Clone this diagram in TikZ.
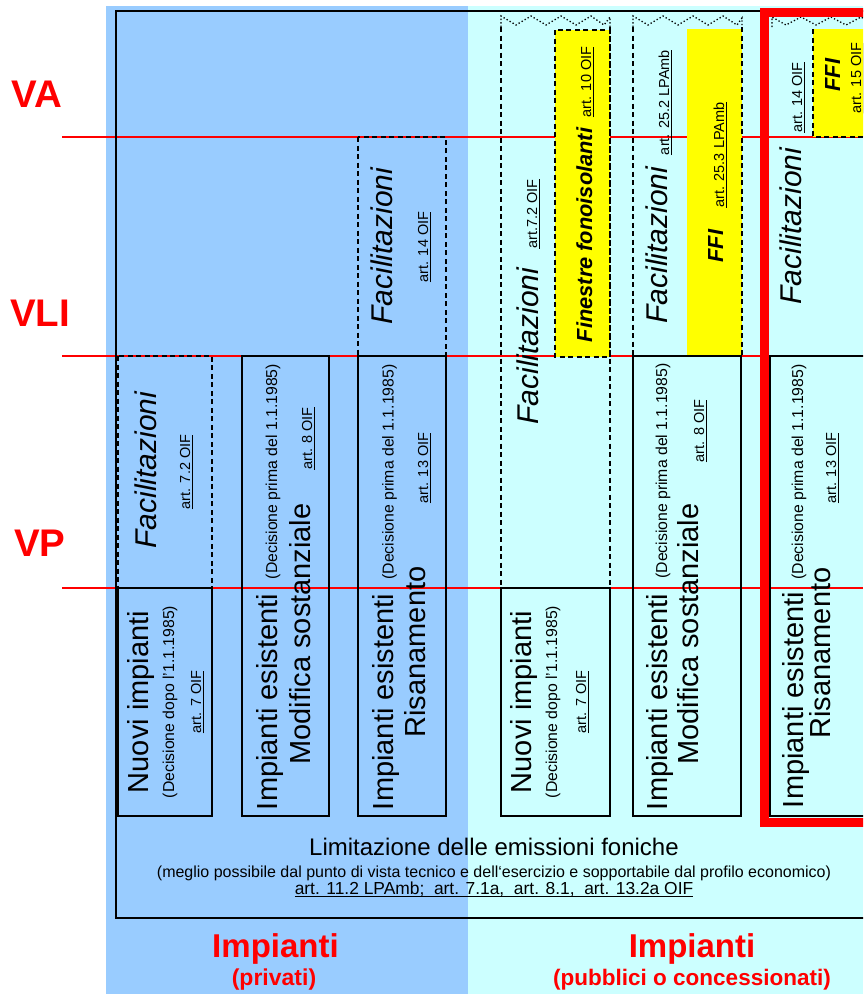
\documentclass[tikz,border=0pt]{standalone}
\usepackage{fontspec}
\setmainfont{Liberation Sans}
\definecolor{privblue}{HTML}{99CCFF}
\definecolor{pubcyan}{HTML}{CCFFFF}
\definecolor{ffiyellow}{HTML}{FFFF00}
\newcommand\ulx[1]{\setbox0\hbox{#1}\rlap{\rule[-0.2em]{\wd0}{0.09em}}\box0}
\tikzset{
  vt/.style={rotate=90, anchor=base, inner sep=0pt},
  ht/.style={anchor=base, inner sep=0pt},
  rbig/.style={vt, font=\fontsize{29}{32}\selectfont},
  rdec/.style={vt, font=\fontsize{15.8}{18}\selectfont},
  rart/.style={vt, font=\fontsize{14.5}{17}\selectfont},
  rfac/.style={vt, font=\fontsize{30}{34}\selectfont\itshape},
  rbi/.style={vt, font=\fontsize{21.8}{25}\selectfont\bfseries\itshape},
  solidbox/.style={draw=black, line width=1.8pt},
  dashbox/.style={draw=black, line width=1.8pt, dash pattern=on 5pt off 3.5pt},
  dotzig/.style={draw=black, line width=1.3pt, dash pattern=on 1.3pt off 2.2pt},
  levelline/.style={draw=red, line width=1.2pt},
  levellbl/.style={ht, text=red, font=\fontsize{38.5}{40}\selectfont\bfseries},
  redlbl/.style={ht, text=red}
}
\begin{document}
\begin{tikzpicture}[x=1pt,y=-1pt]
\useasboundingbox (0,0) rectangle (863,994);
\clip (0,0) rectangle (863,994);
% backgrounds
\fill[privblue] (106,6) rectangle (468,994);
\fill[pubcyan] (468,6) rectangle (863,994);
% level lines
\foreach \yy/\nm in {137/va,356/vli,588/vp}{
  \coordinate (\nm-l) at (62,\yy);
  \coordinate (\nm-r) at (863,\yy);
  \draw[levelline] (\nm-l) -- (\nm-r);
}
% yellow fills
\fill[ffiyellow] (555,30) rectangle (610,357);
\fill[ffiyellow] (687,29) rectangle (742,356);
\fill[ffiyellow] (813,29) rectangle (880,137);
% main frame
\draw[line width=2.5pt] (116,11) rectangle (890,918);
% solid boxes
\draw[solidbox] (118,588) rectangle (212,816);
\draw[solidbox] (242,356) rectangle (329,816);
\draw[solidbox] (358,356) rectangle (446,816);
\draw[solidbox] (501,588) rectangle (610,816);
\draw[solidbox] (633,356) rectangle (741,816);
\draw[solidbox] (770,356) rectangle (890,816);
% dashed boxes
\draw[dashbox] (118,356) rectangle (212,588);
\draw[dashbox] (358,137) rectangle (446,356);
\draw[dashbox] (501,27) -- (501,588);
\draw[dashbox] (610,27) -- (610,588);
\draw[dashbox] (555,30) rectangle (610,357);
\draw[dashbox] (633,27) -- (633,356);
\draw[dashbox] (742,27) -- (742,356);
\draw[dashbox] (880,137) -- (813,137) -- (813,29);
% dotted zigzag tops
\draw[dotzig] (501,27) -- (501,16) -- (516,25) -- (531,16) -- (546,25) -- (561,16) -- (576,25) -- (591,16) -- (604,25) -- (610,17) -- (610,27);
\draw[dotzig] (633,27) -- (633,16) -- (648,25) -- (663,16) -- (678,25) -- (693,16) -- (708,25) -- (723,16) -- (737,25) -- (742,18) -- (742,27);
\draw[dotzig] (772,27) -- (772,17) -- (786,25) -- (801,17) -- (816,25) -- (831,17) -- (846,25) -- (861,17) -- (876,25);
% red column frame
\draw[red, line width=9pt] (764.5,12) rectangle (900,822);
% level labels
\node[levellbl] (lblva) at (37,107) {VA};
\node[levellbl] (lblvli) at (40,326) {VLI};
\node[levellbl] (lblvp) at (40,556) {VP};
% private column texts
\node[rbig] (n1) at (148,702) {Nuovi impianti};
\node[rdec] (n2) at (174,702) {(Decisione dopo l'1.1.1985)};
\node[rart] (n3) at (201,702) {\ulx{art. 7 OIF}};
\node[rfac] (n4) at (156,470) {Facilitazioni};
\node[rart] (n5) at (190,472) {\ulx{art. 7.2 OIF}};
\node[rbig] (n6) at (277,702) {Impianti esistenti};
\node[rdec] (n7) at (277,471.5) {(Decisione prima del 1.1.1985)};
\node[rbig] (n8) at (310,634) {Modifica sostanziale};
\node[rart] (n9) at (312,438.5) {\ulx{art. 8 OIF}};
\node[rfac] (n10) at (392,246) {Facilitazioni};
\node[rart] (n11) at (428,247) {\ulx{art. 14 OIF}};
\node[rbig] (n12) at (393.5,702) {Impianti esistenti};
\node[rdec] (n13) at (393.5,472) {(Decisione prima del 1.1.1985)};
\node[rbig] (n14) at (425,652) {Risanamento};
\node[rart] (n15) at (428,468) {\ulx{art. 13 OIF}};
% public column texts
\node[rfac] (p1) at (538,346) {Facilitazioni};
\node[rart] (p2) at (537,214) {\ulx{art.7.2 OIF}};
\node[rbi] (p3) at (592,235) {Finestre fonoisolanti};
\node[rart] (p4) at (591,82) {\ulx{art. 10 OIF}};
\node[rfac] (p5) at (667,245) {Facilitazioni};
\node[rart] (p6) at (669,102.5) {\ulx{art. 25.2 LPAmb}};
\node[rbi] (p7) at (723,246) {FFI};
\node[rart] (p8) at (724,155) {\ulx{art. 25.3 LPAmb}};
\node[rbig] (p9) at (531,702) {Nuovi impianti};
\node[rdec] (p10) at (557,702) {(Decisione dopo l'1.1.1985)};
\node[rart] (p11) at (586,702) {\ulx{art. 7 OIF}};
\node[rbig] (p12) at (667,702) {Impianti esistenti};
\node[rdec] (p13) at (667,471) {(Decisione prima del 1.1.1985)};
\node[rbig] (p14) at (698,634) {Modifica sostanziale};
\node[rart] (p15) at (704,431) {\ulx{art. 8 OIF}};
% red column texts
\node[rart] (r1) at (802,97.5) {\ulx{art. 14 OIF}};
\node[rbi] (r2) at (840,75) {FFI};
\node[rart] (r3) at (861,78) {\ulx{art. 15 OIF}};
\node[rfac] (r4) at (801,226) {Facilitazioni};
\node[rbig] (r5) at (803,700) {Impianti esistenti};
\node[rdec] (r6) at (803,472) {(Decisione prima del 1.1.1985)};
\node[rbig] (r7) at (830,653) {Risanamento};
\node[rart] (r8) at (836,468) {\ulx{art. 13 OIF}};
% bottom texts
\node[ht, font=\fontsize{24}{26}\selectfont] (lim) at (494,855) {Limitazione delle emissioni foniche};
\node[ht, font=\fontsize{16}{18}\selectfont] (meg) at (494,877) {(meglio possibile dal punto di vista tecnico e dell‘esercizio e sopportabile dal profilo economico)};
\node[ht, font=\fontsize{17.4}{19}\selectfont] (artl) at (494,894) {\ulx{art. 11.2 LPAmb;\ \ art. 7.1a,\ \ art. 8.1,\ \ art. 13.2a OIF}};
\node[redlbl, font=\fontsize{33}{36}\selectfont\bfseries] (impa) at (275.5,957) {Impianti};
\node[redlbl, font=\fontsize{23}{25}\selectfont\bfseries] (priv) at (274,985) {(privati)};
\node[redlbl, font=\fontsize{33}{36}\selectfont\bfseries] (impb) at (692,957) {Impianti};
\node[redlbl, font=\fontsize{22.5}{25}\selectfont\bfseries] (pubb) at (692,985) {(pubblici o concessionati)};
\end{tikzpicture}
\end{document}
